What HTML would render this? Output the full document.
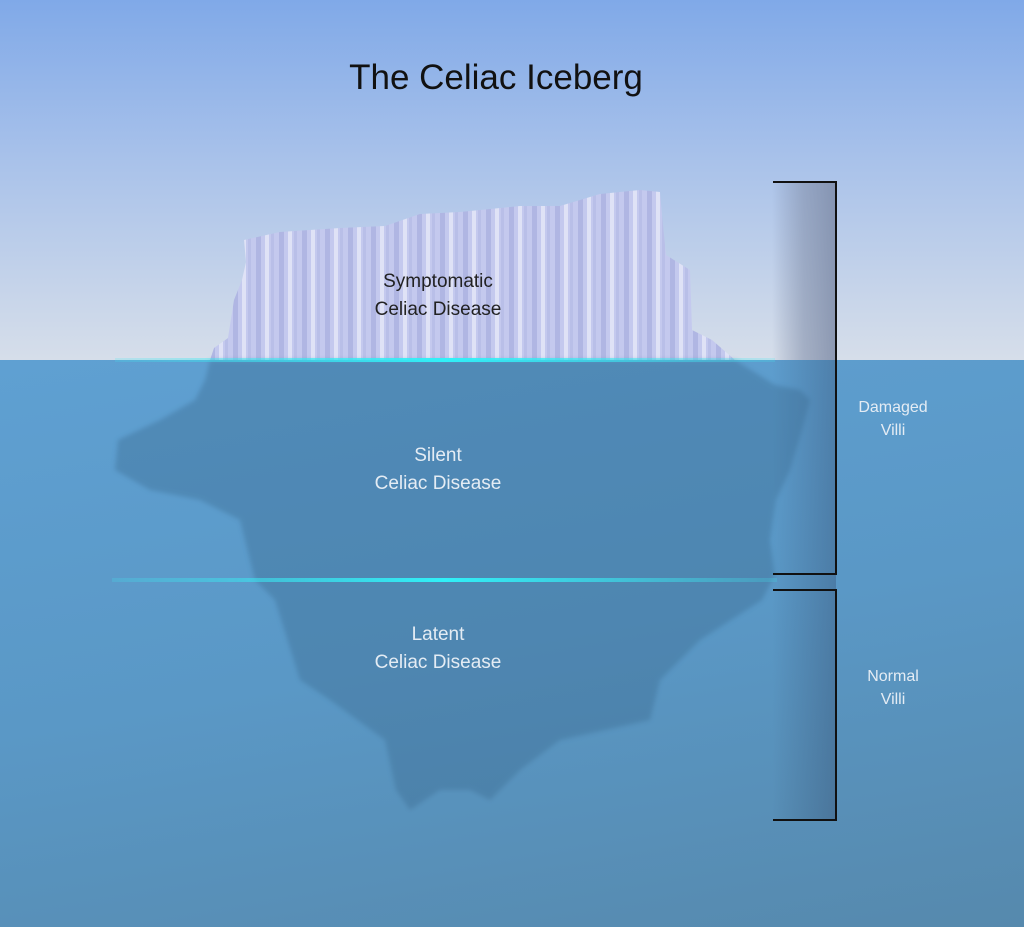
<!DOCTYPE html>
<html><head><style>
html,body{margin:0;padding:0}
body{width:1024px;height:927px;position:relative;overflow:hidden;font-family:"Liberation Sans",sans-serif}
.sky{position:absolute;left:0;top:0;width:1024px;height:360px;background:linear-gradient(#80a9e8,#a9c2ea 45%,#d6deea)}
.sea{position:absolute;left:0;top:360px;width:1024px;height:567px;background:linear-gradient(170deg,#5fa0d2,#5a98c6 50%,#5689ad)}
.t{position:absolute;text-align:center;font-size:19px;line-height:28px}
</style></head><body>
<div class="sky"></div>
<div class="sea"></div>
<svg width="1024" height="927" style="position:absolute;left:0;top:0">
<defs>
<pattern id="st" width="23" height="200" patternUnits="userSpaceOnUse">
<rect width="23" height="200" fill="#c4c9ee"/>
<rect x="3" width="5" height="200" fill="#b0b6e3"/>
<rect x="12" width="4" height="200" fill="#dfe2f6"/>
<rect x="18" width="3" height="200" fill="#b9bfe8"/>
</pattern>
<linearGradient id="strip" x1="0" x2="1"><stop offset="0" stop-color="#2a3a5a" stop-opacity="0"/><stop offset="1" stop-color="#2a3a5a" stop-opacity="0.3"/></linearGradient>
<linearGradient id="strip2" x1="0" x2="1"><stop offset="0" stop-color="#7d8aa6" stop-opacity="0"/><stop offset="0.5" stop-color="#8390ab" stop-opacity="0.6"/><stop offset="1" stop-color="#7a87a3" stop-opacity="0.8"/></linearGradient>
<linearGradient id="cy" x1="0" x2="1"><stop offset="0" stop-color="#40e8f0" stop-opacity="0.2"/><stop offset="0.5" stop-color="#30f0f8"/><stop offset="1" stop-color="#40e8f0" stop-opacity="0.2"/></linearGradient>
<filter id="bl"><feGaussianBlur stdDeviation="2.5"/></filter>
</defs>
<rect x="772" y="182" width="64" height="178" fill="url(#strip2)"/>
<rect x="772" y="360" width="64" height="460" fill="url(#strip)"/>
<path d="M210,360 L214,348 L228,338 L234,300 L242,280 L246,262 L244,240 L280,232 L340,228 L385,226 L420,214 L460,212 L520,206 L560,206 L600,194 L640,190 L660,192 L662,215 L666,255 L690,270 L692,330 L712,340 L735,360 Z" fill="url(#st)"/>
<path filter="url(#bl)" d="M210,360 L735,360 L775,385 L800,390 L810,400 L802,430 L790,470 L776,500 L770,540 L775,575 L762,600 L700,640 L660,680 L650,720 L560,740 L520,770 L490,800 L470,790 L440,790 L410,810 L396,790 L385,740 L330,700 L300,680 L275,600 L255,580 L240,520 L200,500 L150,490 L115,470 L118,440 L160,420 L195,400 L205,380 Z" fill="#3a6a90" opacity="0.38"/>
<rect x="115" y="358" width="660" height="4" fill="url(#cy)"/>
<rect x="112" y="578" width="665" height="4" fill="url(#cy)"/>
<path d="M773,182 H836 V574 H773 M773,590 H836 V820 H773" fill="none" stroke="#111" stroke-width="2"/>
</svg>
<div class="t" style="left:296px;top:56px;width:400px;font-size:35px;line-height:44px;color:#111">The Celiac Iceberg</div>
<div class="t" style="left:288px;top:268px;width:300px;color:#222">Symptomatic<br>Celiac Disease</div>
<div class="t" style="left:288px;top:442px;width:300px;color:#e4ecf4">Silent<br>Celiac Disease</div>
<div class="t" style="left:288px;top:621px;width:300px;color:#e4ecf4">Latent<br>Celiac Disease</div>
<div class="t" style="left:850px;top:396px;width:86px;font-size:16px;line-height:23px;color:#e4ecf4">Damaged<br>Villi</div>
<div class="t" style="left:850px;top:665px;width:86px;font-size:16px;line-height:23px;color:#e4ecf4">Normal<br>Villi</div>
</body></html>
